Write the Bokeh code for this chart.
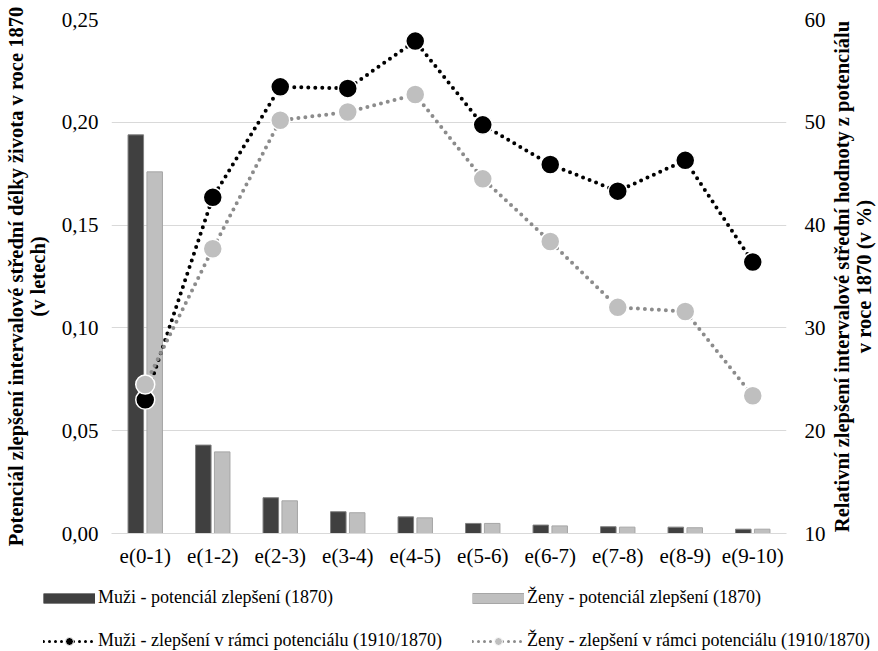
import math
from bokeh.plotting import figure
from bokeh.layouts import column
from bokeh.models import (FactorRange, Range1d, LinearAxis, FixedTicker, CustomJSTickFormatter,
                          ColumnDataSource, Legend, LegendItem, Label)
from bokeh.transform import dodge
from bokeh.embed import file_html
from bokeh.resources import INLINE

categories = ["e(0-1)", "e(1-2)", "e(2-3)", "e(3-4)", "e(4-5)",
              "e(5-6)", "e(6-7)", "e(7-8)", "e(8-9)", "e(9-10)"]
muzi_potencial = [0.1939, 0.0430, 0.0174, 0.0106, 0.0081, 0.0049, 0.0041, 0.0033, 0.0031, 0.0021]
zeny_potencial = [0.1759, 0.0397, 0.0159, 0.0101, 0.0076, 0.0049, 0.0037, 0.0031, 0.0028, 0.0021]
muzi_zlepseni = [23.0, 42.7, 53.45, 53.3, 57.9, 49.75, 45.9, 43.3, 46.3, 36.4]
zeny_zlepseni = [24.5, 37.7, 50.2, 51.0, 52.7, 44.5, 38.4, 32.0, 31.6, 23.4]
left_ticks = [0.0, 0.05, 0.10, 0.15, 0.20, 0.25]
right_ticks = [10, 20, 30, 40, 50, 60]

left_title = "Potenciál zlepšení intervalové střední délky života v roce 1870\n(v letech)"
right_title = "Relativní zlepšení intervalové střední hodnoty z potenciálu\nv roce 1870 (v %)"
lab_muzi_bar = "Muži - potenciál zlepšení (1870)"
lab_zeny_bar = "Ženy - potenciál zlepšení (1870)"
lab_muzi_line = "Muži - zlepšení v rámci potenciálu (1910/1870)"
lab_zeny_line = "Ženy - zlepšení v rámci potenciálu (1910/1870)"

FONT = "Liberation Serif"
TICK_SIZE = "21px"
TITLE_SIZE = "20.5px"

src = ColumnDataSource(dict(cat=categories, muzi=muzi_potencial, zeny=zeny_potencial,
                            mz=muzi_zlepseni, zz=zeny_zlepseni))

W, H_MAIN, H_LEG = 878, 570, 81

# ---------------- main chart ----------------
p = figure(x_range=FactorRange(*categories), y_range=Range1d(0, 0.25),
           width=W, height=H_MAIN, output_backend="svg", toolbar_location=None,
           min_border_left=111, min_border_right=92, min_border_top=19, min_border_bottom=37,
           frame_align=False)
p.extra_y_ranges = {"pct": Range1d(10, 60)}
p.outline_line_color = None
p.xgrid.grid_line_color = None
p.ygrid.grid_line_color = "#d9d9d9"
p.ygrid.grid_line_width = 1

p.vbar(x=dodge("cat", -0.14, range=p.x_range), top="muzi", width=0.23, source=src,
       fill_color="#404040", line_color="#808080", line_width=1)
p.vbar(x=dodge("cat", 0.14, range=p.x_range), top="zeny", width=0.23, source=src,
       fill_color="#bfbfbf", line_color="#a6a6a6", line_width=1)

p.line(x="cat", y="mz", source=src, y_range_name="pct", line_color="black",
       line_width=4, line_dash="0 7", line_cap="round")
p.scatter(x="cat", y="mz", source=src, y_range_name="pct", size=19,
          fill_color="black", line_color="white", line_width=1.5)
p.line(x="cat", y="zz", source=src, y_range_name="pct", line_color="#8c8c8c",
       line_width=4, line_dash="0 7", line_cap="round")
p.scatter(x="cat", y="zz", source=src, y_range_name="pct", size=19,
          fill_color="#bfbfbf", line_color="white", line_width=1.5)

ax_l = p.yaxis[0]
ax_l.ticker = FixedTicker(ticks=left_ticks)
ax_l.formatter = CustomJSTickFormatter(code="return tick.toFixed(2).replace('.', ',');")
p.ygrid.ticker = FixedTicker(ticks=left_ticks)

ax_r = LinearAxis(y_range_name="pct", ticker=FixedTicker(ticks=right_ticks))
p.add_layout(ax_r, "right")


def style_axis(ax):
    ax.axis_line_color = None
    ax.major_tick_line_color = None
    ax.minor_tick_line_color = None
    ax.major_tick_out = 0
    ax.major_tick_in = 0
    ax.major_label_text_font = FONT
    ax.major_label_text_font_size = TICK_SIZE
    ax.major_label_text_color = "black"
    ax.axis_label_text_font = FONT
    ax.axis_label_text_font_style = "bold"
    ax.axis_label_text_font_size = TITLE_SIZE
    ax.axis_label_text_color = "black"
    ax.axis_label_text_line_height = 1.0


for ax in (ax_l, ax_r, p.xaxis[0]):
    style_axis(ax)

p.xaxis[0].axis_line_color = "#d9d9d9"
p.xaxis[0].major_label_standoff = 10

ax_l.major_label_standoff = 13
ax_l.axis_label = left_title
ax_l.axis_label_standoff = 10

ax_r.major_label_standoff = 18

rt = Label(x=24, y=257, x_units="screen", y_units="screen", text=right_title,
           angle=math.pi / 2, text_align="center", text_baseline="middle",
           text_font=FONT, text_font_style="bold", text_font_size=TITLE_SIZE,
           text_color="black", text_line_height=1.0)
p.add_layout(rt, "right")

# ---------------- legend strip ----------------
lg = figure(x_range=FactorRange(*categories), y_range=Range1d(0, 1),
            width=W, height=H_LEG, output_backend="svg", toolbar_location=None,
            x_axis_location=None, y_axis_location=None, frame_align=False,
            min_border_left=0, min_border_right=0, min_border_top=0, min_border_bottom=0)
lg.outline_line_color = None
lg.grid.visible = False

lb1 = lg.line(x="cat", y="muzi", source=src, line_width=11, line_color="#7f7f7f", visible=False)
lb2 = lg.line(x="cat", y="muzi", source=src, line_width=9, line_color="#404040", visible=False)
lz1 = lg.line(x="cat", y="zeny", source=src, line_width=11, line_color="#a6a6a6", visible=False)
lz2 = lg.line(x="cat", y="zeny", source=src, line_width=9, line_color="#bfbfbf", visible=False)
lm = lg.line(x="cat", y="mz", source=src, line_width=3, line_color="black",
             line_dash="0 6", line_cap="round", visible=False)
lms = lg.scatter(x="cat", y="mz", source=src, fill_color="black", line_color="white",
                 line_width=1, visible=False)
lzl = lg.line(x="cat", y="zz", source=src, line_width=3, line_color="#8c8c8c",
              line_dash="0 6", line_cap="round", visible=False)
lzs = lg.scatter(x="cat", y="zz", source=src, fill_color="#bfbfbf", line_color="white",
                 line_width=1, visible=False)

legend = Legend(items=[
    LegendItem(label=lab_muzi_bar, renderers=[lb1, lb2]),
    LegendItem(label=lab_zeny_bar, renderers=[lz1, lz2]),
    LegendItem(label=lab_muzi_line, renderers=[lm, lms]),
    LegendItem(label=lab_zeny_line, renderers=[lzl, lzs]),
], orientation="horizontal", ncols=2, location=(43, 0),
    glyph_width=52, glyph_height=20, label_height=20, label_width=352, label_standoff=3,
    spacing=22, padding=0, margin=0, border_line_color=None, background_fill_alpha=0,
    label_text_font=FONT, label_text_font_size="18px", label_text_color="black")
lg.add_layout(legend)

layout = column(p, lg, spacing=0)
open("out.html", "w").write(file_html(layout, INLINE))
